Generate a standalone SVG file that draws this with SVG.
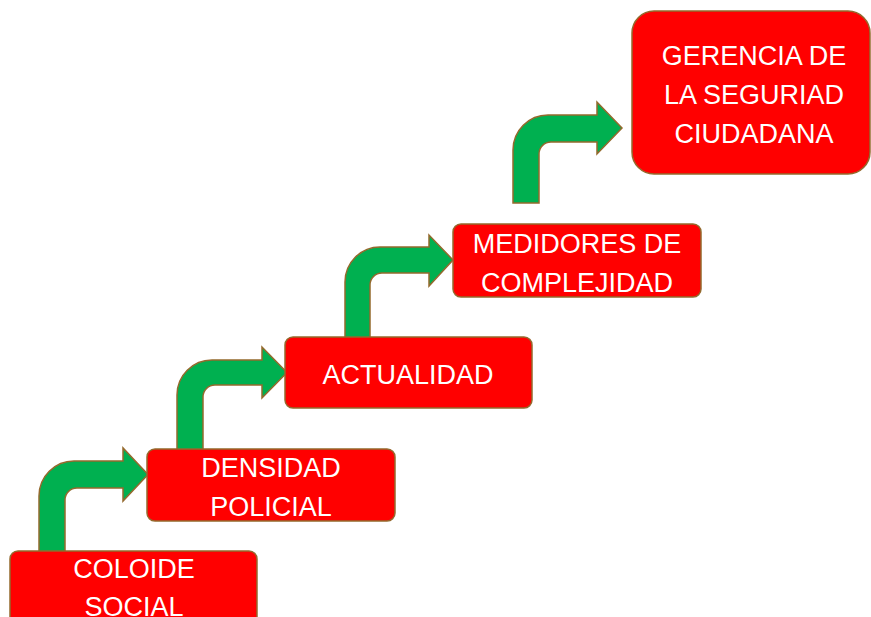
<svg xmlns="http://www.w3.org/2000/svg" width="871" height="617" viewBox="0 0 871 617">
<style>
.arrow{fill:#00B050;stroke:#94692D;stroke-width:1.5;stroke-linejoin:miter}
.box{fill:#FF0000;stroke:#94692D;stroke-width:1.5}
.t{fill:#FFFFFF;font-family:"Liberation Sans",Arial,sans-serif;font-size:27px;text-anchor:middle}
</style>
<rect width="871" height="617" fill="#FFFFFF"/>
<g id="connectors">
<path class="arrow" d="M39,552 L39,496 A35,35 0 0 1 74,461 L123,461 L123,448 L148,474.5 L123,501 L123,488 L77,488 A12,12 0 0 0 65,500 L65,552 Z"/>
<path class="arrow" d="M177,450 L177,395 A35,35 0 0 1 212,360 L262,360 L262,347 L287,372.5 L262,398 L262,385 L215,385 A12,12 0 0 0 203,397 L203,450 Z"/>
<path class="arrow" d="M345,338 L345,282 A35,35 0 0 1 380,247 L429,247 L429,235 L453,260 L429,286 L429,273 L382,273 A12,12 0 0 0 370,285 L370,338 Z"/>
<path class="arrow" d="M513,203 L513,150 A35,35 0 0 1 548,115 L597,115 L597,102 L622,128 L597,154 L597,142 L551,142 A12,12 0 0 0 539,154 L539,203 Z"/>
</g>
<g id="node-coloide">
<rect class="box" x="10" y="551" width="247" height="90" rx="8"/>
<text class="t" x="134" y="578">COLOIDE</text>
<text class="t" x="134" y="616">SOCIAL</text>
</g>
<g id="node-densidad">
<rect class="box" x="147" y="449" width="248" height="72" rx="8"/>
<text class="t" x="271" y="477">DENSIDAD</text>
<text class="t" x="271" y="516">POLICIAL</text>
</g>
<g id="node-actualidad">
<rect class="box" x="285" y="337" width="247" height="71" rx="8"/>
<text class="t" x="408" y="384">ACTUALIDAD</text>
</g>
<g id="node-medidores">
<rect class="box" x="453" y="224" width="248" height="73" rx="8"/>
<text class="t" x="577" y="253">MEDIDORES DE</text>
<text class="t" x="577" y="292">COMPLEJIDAD</text>
</g>
<g id="node-gerencia">
<rect class="box" x="632" y="11" width="238" height="163" rx="22"/>
<text class="t" x="754" y="65">GERENCIA DE</text>
<text class="t" x="754" y="104">LA SEGURIAD</text>
<text class="t" x="754" y="143">CIUDADANA</text>
</g>
</svg>
